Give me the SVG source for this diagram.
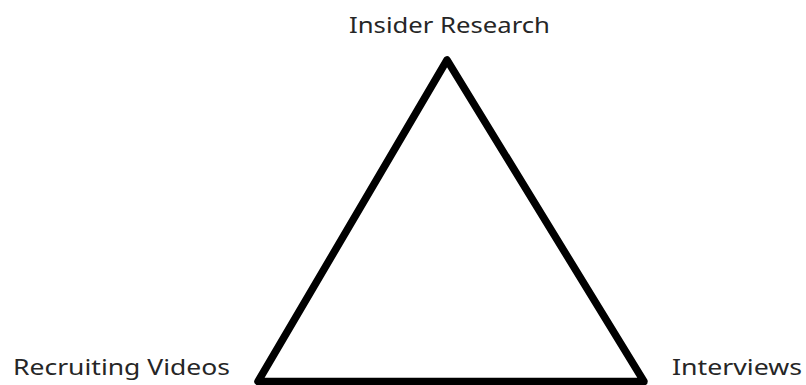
<svg xmlns="http://www.w3.org/2000/svg" width="806" height="385" viewBox="0 0 806 385">
<style>
.lbl{font-family:"Noto Sans","Open Sans","Liberation Sans",sans-serif;font-size:21px;fill:#262626}
.tri{fill:none;stroke:#000;stroke-width:7.5;stroke-linejoin:round}
</style>
<rect width="806" height="385" fill="#fff"/>
<g id="connectors">
<polygon class="tri" points="447,60 258,381.5 644,381.5"/>
</g>
<g id="node-insider-research">
<text class="lbl" x="349" y="33" textLength="201" lengthAdjust="spacingAndGlyphs">Insider Research</text>
</g>
<g id="node-recruiting-videos">
<text class="lbl" x="13" y="375" textLength="217" lengthAdjust="spacingAndGlyphs">Recruiting Videos</text>
</g>
<g id="node-interviews">
<text class="lbl" x="672" y="375" textLength="130" lengthAdjust="spacingAndGlyphs">Interviews</text>
</g>
</svg>
